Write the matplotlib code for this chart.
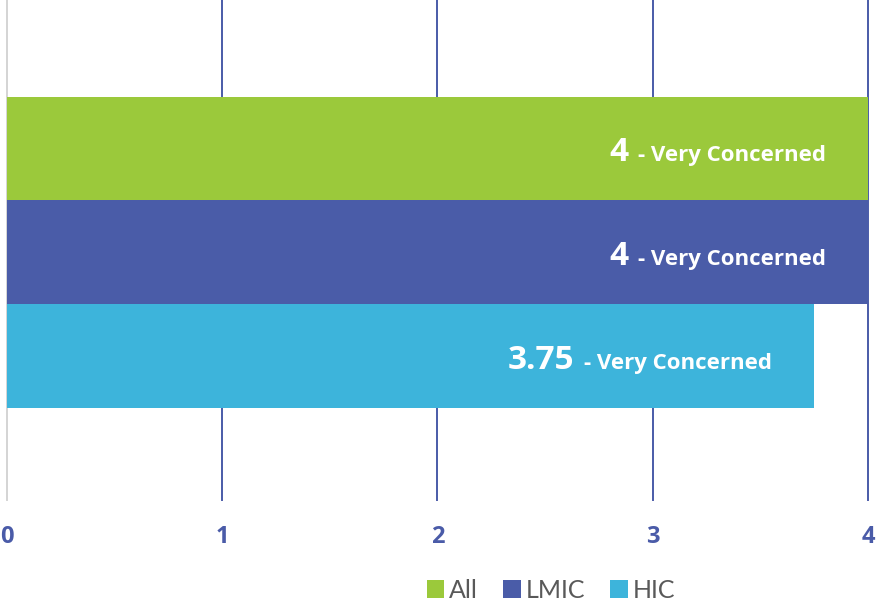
import matplotlib
matplotlib.use("Agg")
import matplotlib.pyplot as plt
from matplotlib.patches import Patch
from matplotlib.offsetbox import TextArea, HPacker, AnnotationBbox

categories = ["All", "LMIC", "HIC"]
scores = [4, 4, 3.75]
score_labels = ["4", "4", "3.75"]
rating = "Very Concerned"
x_ticks = [0, 1, 2, 3, 4]
colors = ["#9bc93b", "#4a5ca8", "#3db4db"]
axis_blue = "#4a5ba8"

W, H = 887, 606
fig = plt.figure(figsize=(W / 100, H / 100), dpi=100)
ax = fig.add_axes([7 / W, (H - 500) / H, (868 - 7) / W, 500 / H])

ypos = list(range(len(categories)))
ax.barh(ypos, scores, height=1.0, color=colors, zorder=3)

ax.set_xlim(0, 4)
ax.set_ylim(3.385, -1.43)
ax.set_yticks([])
ax.set_xticks(x_ticks)
ax.set_xticklabels([str(t) for t in x_ticks], fontsize=17, fontweight="bold",
                   color=axis_blue, family="Open Sans")
ax.tick_params(axis="x", length=0, pad=18)
for s in ax.spines.values():
    s.set_visible(False)

for t in x_ticks:
    ax.axvline(t, color="#d4d4d4" if t == 0 else axis_blue, lw=1.4, zorder=1,
               clip_on=False)

for y, v, lab in zip(ypos, scores, score_labels):
    num = TextArea(lab, textprops=dict(color="white", fontsize=24, fontweight="bold",
                                       family="Open Sans"))
    rest = TextArea("- " + rating, textprops=dict(color="white", fontsize=16,
                                                   fontweight="bold", family="Open Sans"))
    box = HPacker(children=[num, rest], align="baseline", pad=0, sep=7)
    ab = AnnotationBbox(box, (v, y), xybox=(-42, -4), xycoords="data",
                        boxcoords="offset pixels", box_alignment=(1, 0.5),
                        frameon=False, zorder=5)
    ax.add_artist(ab)

handles = [Patch(facecolor=c, edgecolor="none") for c in colors]
fig.legend(handles, categories, loc="center", bbox_to_anchor=(551 / W, 1 - 590 / H),
           ncol=3, frameon=False, handlelength=0.7, handleheight=0.7,
           handletextpad=0.2, columnspacing=1.0,
           prop=dict(family="Lato", size=18), labelcolor="#595959")

fig.savefig("out.png", dpi=100)
